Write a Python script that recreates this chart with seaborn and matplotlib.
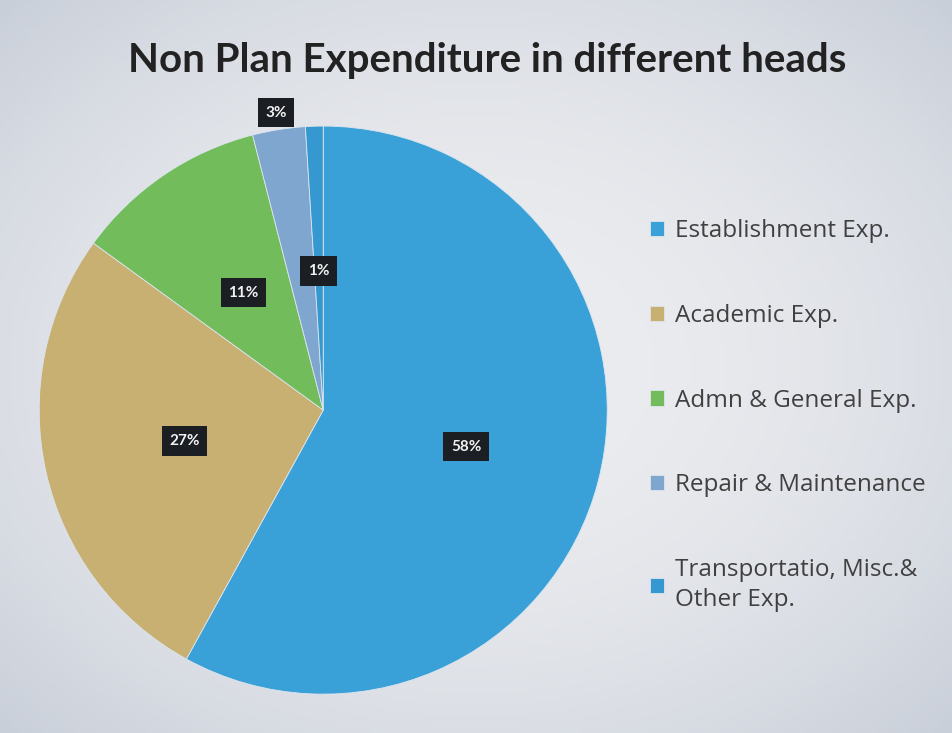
import numpy as np
import matplotlib.pyplot as plt
import seaborn as sns

# ---------------  Data  ------------
heads = ['Establishment Exp.', 'Academic Exp.', 'Admn & General Exp.',
         'Repair & Maintenance', 'Transportatio, Misc.&\nOther Exp.']
shares = [58, 27, 11, 3, 1]
pct_labels = ['58%', '27%', '11%', '3%', '1%']
label_radius = [0.52, 0.50, 0.50, 1.06, 0.49]   # where each % box sits
slice_colors = ['#3AA0D8', '#C8B073', '#72BC5C', '#7FA6CF', '#3598D0']

# ---------------  Set up the figure  ------------
sns.set_theme(style='white')
plt.rcParams['font.family'] = ['Lato', 'DejaVu Sans']

bg = '#E2E4E9'
fig = plt.figure(figsize=(9.52, 7.33), dpi=100, facecolor=bg)

# soft vignette behind everything
bg_ax = fig.add_axes([0, 0, 1, 1], zorder=-5)
yy, xx = np.mgrid[-1:1:200j, -1:1:200j]
glow = 1 - 0.35 * (xx ** 2 + yy ** 2)
bg_ax.imshow(glow, cmap=sns.blend_palette(['#C9CFD9', '#ECEDF0'], as_cmap=True),
             extent=[0, 1, 0, 1], aspect='auto', vmin=0.3, vmax=1)
bg_ax.axis('off')

ax = fig.add_axes([0.041, 0.053, 0.597, 0.775])
ax.set_facecolor('none')

wedges, _ = ax.pie(shares, colors=slice_colors, startangle=90, counterclock=False,
                   radius=1, wedgeprops=dict(edgecolor='#DCE6EE', linewidth=0.6))
ax.set_xlim(-1, 1)
ax.set_ylim(-1, 1)
ax.set_aspect('equal')

# percentage boxes
for w, txt, r in zip(wedges, pct_labels, label_radius):
    ang = np.deg2rad((w.theta1 + w.theta2) / 2)
    ax.text(r * np.cos(ang), r * np.sin(ang), txt, ha='center', va='center',
            fontsize=11, fontweight='bold', color='#F2F2F2',
            bbox=dict(boxstyle='square,pad=0.5', facecolor='#1B1E22', edgecolor='none'),
            clip_on=False)

fig.text(0.512, 0.918, 'Non Plan Expenditure in different heads', ha='center', va='center',
         fontsize=29, fontweight='bold', color='#222222')

# ---------------  Legend  ------------
leg = fig.legend(wedges, heads, loc='upper left', bbox_to_anchor=(0.66, 0.731),
                 frameon=False, prop=dict(family='Open Sans', size=17.5),
                 labelspacing=2.5, handlelength=0.58, handleheight=0.58,
                 handletextpad=0.42)
for t in leg.get_texts():
    t.set_color('#404040')
    t.set_linespacing(1.35)

fig.savefig('out.png', dpi=100, facecolor=bg)
